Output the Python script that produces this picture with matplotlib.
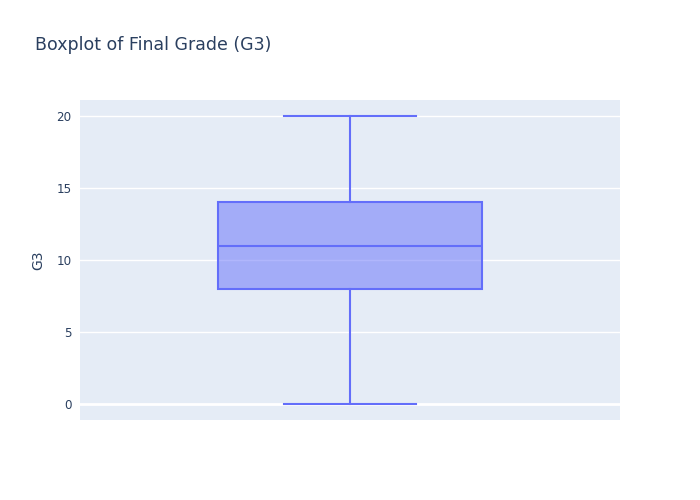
import matplotlib
matplotlib.use("Agg")
import matplotlib.pyplot as plt

# Data
label = "G3"
g3_min = 0
g3_q1 = 8
g3_median = 11
g3_q3 = 14
g3_max = 20
yticks = [0, 5, 10, 15, 20]

line_color = "#636EFA"
fill_color = (99/255, 110/255, 250/255, 0.5)
text_color = "#2a3f5f"
bg_color = "#E5ECF6"

plt.rcParams['font.family'] = ['DejaVu Sans']

fig = plt.figure(figsize=(7, 5), dpi=100)
ax = fig.add_axes([80/700, 80/500, 540/700, 320/500])
ax.set_facecolor(bg_color)

stats = [dict(med=g3_median, q1=g3_q1, q3=g3_q3, whislo=g3_min, whishi=g3_max,
              fliers=[], label=label)]
lw = 1.5
bp = ax.bxp(stats, positions=[0], widths=0.49, capwidths=0.245, patch_artist=True,
            showfliers=False,
            boxprops=dict(facecolor=fill_color, edgecolor=line_color, linewidth=lw),
            medianprops=dict(color=line_color, linewidth=lw),
            whiskerprops=dict(color=line_color, linewidth=lw),
            capprops=dict(color=line_color, linewidth=lw))

ax.set_xlim(-0.5, 0.5)
ax.set_ylim(-1.11, 21.11)
ax.set_xticks([])
ax.set_yticks(yticks)
ax.set_yticklabels([str(t) for t in yticks])
ax.tick_params(axis='y', length=0, pad=6, labelsize=8.6, labelcolor=text_color)
for t in yticks:
    ax.axhline(t, color='white', linewidth=2 if t == 0 else 1, zorder=0.5)
for s in ax.spines.values():
    s.set_visible(False)

ax.set_ylabel(label, fontsize=10, color=text_color, labelpad=8)

fig.text(35/700, 1 - 45/500, "Boxplot of Final Grade (G3)", fontsize=12.5,
         color=text_color, ha='left', va='center')

fig.savefig("out.png", dpi=100, facecolor='white')
